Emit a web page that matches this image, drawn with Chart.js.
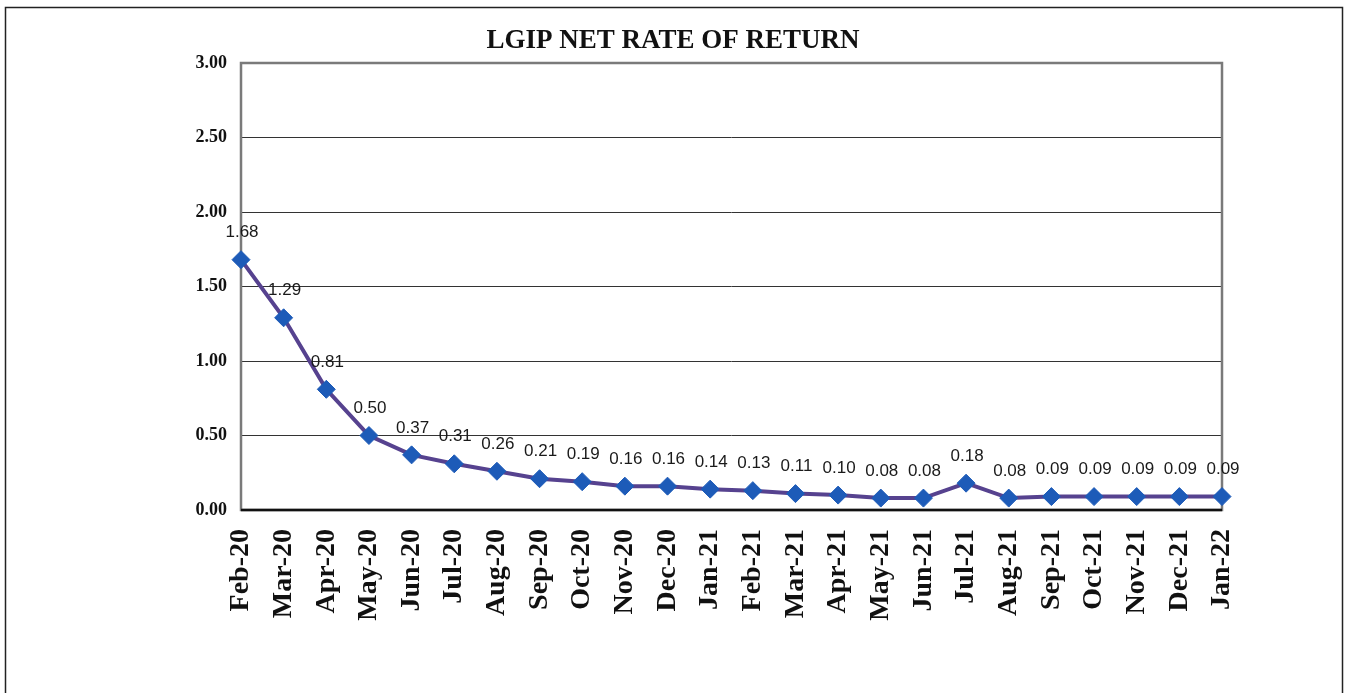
<!DOCTYPE html>
<html>
<head>
<meta charset="utf-8">
<script src="https://cdn.jsdelivr.net/npm/chart.js@4.4.0/dist/chart.umd.min.js"></script>
<style>
  html, body { margin: 0; padding: 0; background: #fff; }
  #wrap { width: 1347px; height: 693px; }
</style>
</head>
<body>
<div id="wrap"><canvas id="myChart" width="1347" height="693"></canvas></div>
<script>
var months = ["Feb-20", "Mar-20", "Apr-20", "May-20", "Jun-20", "Jul-20", "Aug-20", "Sep-20",
  "Oct-20", "Nov-20", "Dec-20", "Jan-21", "Feb-21", "Mar-21", "Apr-21", "May-21", "Jun-21",
  "Jul-21", "Aug-21", "Sep-21", "Oct-21", "Nov-21", "Dec-21", "Jan-22"];
var netRate = [1.68, 1.29, 0.81, 0.50, 0.37, 0.31, 0.26, 0.21, 0.19, 0.16, 0.16, 0.14, 0.13,
  0.11, 0.10, 0.08, 0.08, 0.18, 0.08, 0.09, 0.09, 0.09, 0.09, 0.09];
var yTicks = [0, 0.5, 1, 1.5, 2, 2.5, 3];
var chartTitle = 'LGIP NET RATE OF RETURN';

var serif = '"Liberation Serif", "Times New Roman", serif';

// page frame, title and plot border
var frames = {
  id: 'frames',
  beforeDraw: function(chart) {
    var c = chart.ctx;
    c.save();
    c.strokeStyle = '#222';
    c.lineWidth = 1.5;
    c.strokeRect(5.5, 7.5, 1337, 700);
    c.font = 'bold 27px ' + serif;
    c.fillStyle = '#111';
    c.textAlign = 'center';
    c.textBaseline = 'middle';
    c.fillText(chartTitle, 673, 41);
    c.restore();
  },
  beforeDatasetsDraw: function(chart) {
    var a = chart.chartArea, c = chart.ctx;
    c.save();
    c.strokeStyle = '#7a7a7a';
    c.lineWidth = 2.5;
    c.strokeRect(a.left, a.top, a.right - a.left, a.bottom - a.top);
    c.strokeStyle = '#111';
    c.lineWidth = 2.5;
    c.beginPath();
    c.moveTo(a.left, a.bottom);
    c.lineTo(a.right, a.bottom);
    c.stroke();
    c.restore();
  }
};

// value labels above the points
var valueLabels = {
  id: 'valueLabels',
  afterDatasetsDraw: function(chart) {
    var c = chart.ctx;
    var meta = chart.getDatasetMeta(0);
    c.save();
    c.font = '17px "Liberation Sans", Arial, sans-serif';
    c.fillStyle = '#1a1a1a';
    c.textAlign = 'center';
    c.textBaseline = 'middle';
    meta.data.forEach(function(pt, i) {
      c.fillText(netRate[i].toFixed(2), pt.x + 1, pt.y - 27);
    });
    c.restore();
  }
};

var ctx = document.getElementById("myChart").getContext('2d');
var myChart = new Chart(ctx, {
  type: 'line',
  data: {
    labels: months,
    datasets: [{
      data: netRate,
      borderColor: '#56428f',
      borderWidth: 4,
      pointStyle: 'rectRot',
      pointRadius: 9,
      pointBackgroundColor: '#1d5bb8',
      pointBorderColor: '#1d5bb8',
      pointBorderWidth: 1,
      tension: 0
    }]
  },
  options: {
    responsive: false,
    animation: false,
    layout: { padding: { left: 0, right: 125, top: 63, bottom: 0 } },
    plugins: {
      legend: { display: false },
      tooltip: { enabled: false },
      title: { display: false }
    },
    scales: {
      x: {
        offset: false,
        grid: { display: false, drawTicks: false },
        border: { display: false },
        afterFit: function(s) { s.height = 183; },
        ticks: {
          autoSkip: false,
          minRotation: 90,
          maxRotation: 90,
          padding: 19,
          color: '#111',
          font: { family: serif, size: 28, weight: 'bold' }
        }
      },
      y: {
        min: 0,
        max: 3,
        afterFit: function(s) { s.width = 241; },
        afterBuildTicks: function(s) { s.ticks = yTicks.map(function(v) { return { value: v }; }); },
        grid: { color: '#333', lineWidth: 1, drawTicks: false },
        border: { display: false },
        ticks: {
          padding: 14,
          color: '#111',
          font: { family: serif, size: 18, weight: 'bold' },
          callback: function(v) { return Number(v).toFixed(2); }
        }
      }
    }
  },
  plugins: [frames, valueLabels]
});
</script>
</body>
</html>
